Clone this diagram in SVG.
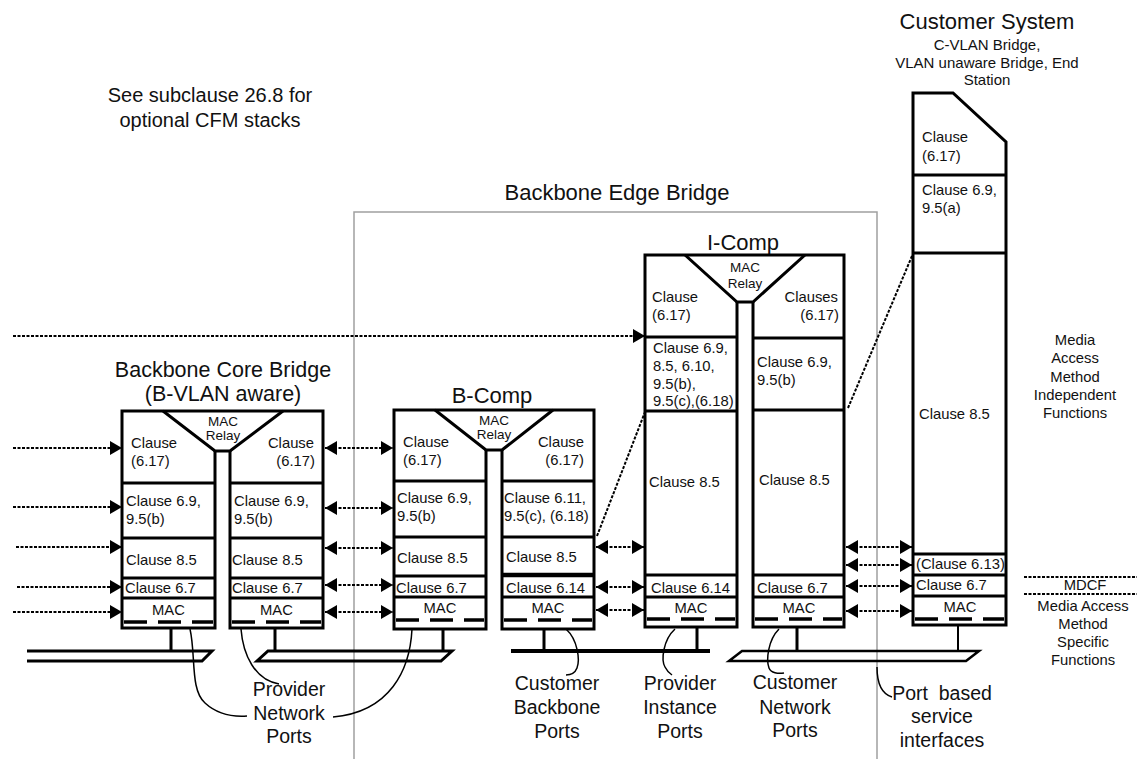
<svg xmlns="http://www.w3.org/2000/svg" width="1137" height="759" viewBox="0 0 1137 759">
<style>
.box{fill:none;stroke:#000;stroke-width:3;stroke-linejoin:miter}
.dash{fill:none;stroke:#000;stroke-width:3.5;stroke-dasharray:23 11}
.t{font-family:"Liberation Sans",Arial,sans-serif;font-size:14.8px;fill:#111}
.rl{font-size:13.5px}
.ti{font-size:22px}
.lb{font-size:19.5px}
.m{text-anchor:middle}
.e{text-anchor:end}
.dot{fill:none;stroke:#000;stroke-width:2;stroke-dasharray:3 1.5}
.lead{fill:none;stroke:#000;stroke-width:1.5}
.bus{fill:none;stroke:#000;stroke-width:3;stroke-linejoin:miter}
.grey{fill:none;stroke:#a0a0a0;stroke-width:1.5}
</style>
<defs>
<marker id="ah" viewBox="0 0 12 14" refX="12" refY="7" markerWidth="12" markerHeight="14" markerUnits="userSpaceOnUse" orient="auto-start-reverse">
<path d="M0,0 L12,7 L0,14 Z" fill="#000"/>
</marker>
</defs>
<rect width="1137" height="759" fill="#fff"/>

<g id="notes">
<text class="t m" x="210" y="102" style="font-size:20px">See subclause 26.8 for</text>
<text class="t m" x="210" y="127" style="font-size:20px">optional CFM stacks</text>
</g>

<g id="backbone-edge-bridge">
<path class="grey" d="M354,759 V212 H877 V759"/>
<text class="t ti m" x="617" y="200">Backbone Edge Bridge</text>
</g>

<g id="backbone-core-bridge">
<text class="t m" x="223" y="377" style="font-size:21.5px">Backbone Core Bridge</text>
<text class="t m" x="223" y="401" style="font-size:21.5px">(B-VLAN aware)</text>
<path class="box" d="M215,451 V628 H122 V411 H323 V628 H230 V451"/>
<path class="box" d="M163,411 L215,451 H230 L283,411"/>
<path class="box" d="M122,483 H215 M122,538 H215 M122,578 H215 M122,598 H215 M230,483 H323 M230,538 H323 M230,578 H323 M230,598 H323"/>
<path class="dash" d="M124,622 H213 M232,622 H321"/>
<text class="t rl m" x="223" y="426">MAC</text>
<text class="t rl m" x="223" y="440">Relay</text>
<text class="t" x="131" y="448">Clause</text>
<text class="t" x="131" y="466">(6.17)</text>
<text class="t e" x="314" y="448">Clause</text>
<text class="t e" x="315" y="466">(6.17)</text>
<text class="t" x="126" y="506">Clause 6.9,</text>
<text class="t" x="126" y="524">9.5(b)</text>
<text class="t" x="234" y="506">Clause 6.9,</text>
<text class="t" x="234" y="524">9.5(b)</text>
<text class="t" x="126" y="565">Clause 8.5</text>
<text class="t" x="232" y="565">Clause 8.5</text>
<text class="t" x="125" y="593">Clause 6.7</text>
<text class="t" x="232" y="593">Clause 6.7</text>
<text class="t m" x="168.5" y="615">MAC</text>
<text class="t m" x="276.5" y="615">MAC</text>
</g>

<g id="b-comp">
<text class="t ti m" x="492" y="403">B-Comp</text>
<path class="box" d="M486,450 V629 H394 V410 H594 V629 H502 V450"/>
<path class="box" d="M435,410 L486,450 H502 L553,410"/>
<path class="box" d="M394,481 H486 M394,537 H486 M394,576 H486 M394,597 H486 M502,481 H594 M502,537 H594 M502,597 H594"/>
<path class="box" style="stroke-width:4.5" d="M502,575 H594"/>
<path class="dash" d="M396,620 H484 M504,620 H592"/>
<text class="t rl m" x="494" y="425">MAC</text>
<text class="t rl m" x="494" y="439">Relay</text>
<text class="t" x="403" y="447">Clause</text>
<text class="t" x="403" y="465">(6.17)</text>
<text class="t e" x="584" y="447">Clause</text>
<text class="t e" x="584" y="465">(6.17)</text>
<text class="t" x="397" y="503">Clause 6.9,</text>
<text class="t" x="397" y="521">9.5(b)</text>
<text class="t" x="504" y="503">Clause 6.11,</text>
<text class="t" x="504" y="521">9.5(c), (6.18)</text>
<text class="t" x="397" y="563">Clause 8.5</text>
<text class="t" x="506" y="562">Clause 8.5</text>
<text class="t" x="396" y="593">Clause 6.7</text>
<text class="t" x="506" y="593">Clause 6.14</text>
<text class="t m" x="440" y="613">MAC</text>
<text class="t m" x="548" y="613">MAC</text>
</g>

<g id="i-comp">
<text class="t ti m" x="743" y="250">I-Comp</text>
<path class="box" d="M737,302 V627 H645 V255 H844 V627 H753 V302"/>
<path class="box" d="M685,255 L737,302 H753 L805,255"/>
<path class="box" d="M645,337 H737 M645,411 H737 M645,575 H737 M645,597 H737 M753,338 H844 M753,410 H844 M753,575 H844 M753,597 H844"/>
<path class="dash" d="M647,619 H735 M755,619 H842"/>
<text class="t rl m" x="745" y="272">MAC</text>
<text class="t rl m" x="745" y="288">Relay</text>
<text class="t" x="652" y="302">Clause</text>
<text class="t" x="652" y="320">(6.17)</text>
<text class="t e" x="838" y="302">Clauses</text>
<text class="t e" x="839" y="320">(6.17)</text>
<text class="t" x="653" y="353">Clause 6.9,</text>
<text class="t" x="653" y="371">8.5, 6.10,</text>
<text class="t" x="653" y="389">9.5(b),</text>
<text class="t" x="653" y="406">9.5(c),(6.18)</text>
<text class="t" x="757" y="367">Clause 6.9,</text>
<text class="t" x="757" y="385">9.5(b)</text>
<text class="t" x="649" y="487">Clause 8.5</text>
<text class="t" x="759" y="485">Clause 8.5</text>
<text class="t" x="651" y="593">Clause 6.14</text>
<text class="t" x="757" y="593">Clause 6.7</text>
<text class="t m" x="691" y="613">MAC</text>
<text class="t m" x="799" y="613">MAC</text>
</g>

<g id="customer-system">
<text class="t ti m" x="987" y="29">Customer System</text>
<text class="t m" x="987" y="50" style="font-size:15px">C-VLAN Bridge,</text>
<text class="t m" x="987" y="67.5" style="font-size:15px">VLAN unaware Bridge, End</text>
<text class="t m" x="987" y="85" style="font-size:15px">Station</text>
<path class="box" d="M913,625 V93 H953 L1006,142 V625 Z"/>
<path class="box" d="M913,175 H1006 M913,253 H1006 M913,554 H1006 M913,575 H1006 M913,596 H1006"/>
<path class="dash" d="M915,619 H1004"/>
<text class="t" x="922" y="142">Clause</text>
<text class="t" x="922" y="161">(6.17)</text>
<text class="t" x="922" y="195">Clause 6.9,</text>
<text class="t" x="922" y="213">9.5(a)</text>
<text class="t" x="919" y="419">Clause 8.5</text>
<text class="t" x="916" y="569">(Clause 6.13)</text>
<text class="t" x="916" y="590">Clause 6.7</text>
<text class="t m" x="960" y="612">MAC</text>
</g>

<g id="layer-legend">
<text class="t m" x="1075" y="345">Media</text>
<text class="t m" x="1075" y="363">Access</text>
<text class="t m" x="1075" y="382">Method</text>
<text class="t m" x="1075" y="400">Independent</text>
<text class="t m" x="1075" y="418">Functions</text>
<path class="dot" d="M1024,577 H1137 M1024,594 H1137"/>
<text class="t m" x="1085" y="590">MDCF</text>
<text class="t m" x="1083" y="611">Media Access</text>
<text class="t m" x="1083" y="629">Method</text>
<text class="t m" x="1083" y="647">Specific</text>
<text class="t m" x="1083" y="665">Functions</text>
</g>

<g id="lans">
<path class="bus" d="M171,628 V651 M275,628 V651 M443,629 V651 M544,629 V651 M697,627 V651 M797,627 V651"/>
<path class="bus" style="stroke-width:2" d="M958,625 V651"/>
<path class="bus" d="M27,651 H212 L202,661 H27"/>
<path class="bus" d="M268,651 H452 L441,661 H257 Z"/>
<path class="bus" style="stroke-width:4" d="M511,651 H710"/>
<path class="bus" style="stroke-width:2.5" d="M742,651 H979 L966,661 H729 Z"/>
</g>

<g id="connectors">
<path class="dot" marker-end="url(#ah)" d="M13,336 H645"/>
<path class="dot" marker-end="url(#ah)" d="M13,448 H122"/>
<path class="dot" marker-end="url(#ah)" d="M13,507 H122"/>
<path class="dot" marker-end="url(#ah)" d="M16,547 H122"/>
<path class="dot" marker-end="url(#ah)" d="M17,587 H122"/>
<path class="dot" marker-end="url(#ah)" d="M13,612 H122"/>
<path class="dot" marker-start="url(#ah)" marker-end="url(#ah)" d="M325,448 H393"/>
<path class="dot" marker-start="url(#ah)" marker-end="url(#ah)" d="M325,508 H393"/>
<path class="dot" marker-start="url(#ah)" marker-end="url(#ah)" d="M325,548 H393"/>
<path class="dot" marker-start="url(#ah)" marker-end="url(#ah)" d="M325,585 H393"/>
<path class="dot" marker-start="url(#ah)" marker-end="url(#ah)" d="M325,612 H393"/>
<path class="dot" marker-start="url(#ah)" marker-end="url(#ah)" d="M596,547 H644"/>
<path class="dot" marker-start="url(#ah)" marker-end="url(#ah)" d="M596,587 H644"/>
<path class="dot" marker-start="url(#ah)" marker-end="url(#ah)" d="M596,610 H644"/>
<path class="dot" marker-start="url(#ah)" marker-end="url(#ah)" d="M846,547 H912"/>
<path class="dot" marker-start="url(#ah)" marker-end="url(#ah)" d="M846,565 H912"/>
<path class="dot" marker-start="url(#ah)" marker-end="url(#ah)" d="M846,586 H912"/>
<path class="dot" marker-start="url(#ah)" marker-end="url(#ah)" d="M846,611 H912"/>
<path class="dot" d="M597,536 L645,412"/>
<path class="dot" d="M848,408 L912,256"/>
<path class="lead" d="M190,629 C196,655 190,690 205,703 C217,714 233,717 247,716"/>
<path class="lead" d="M241,629 C243,655 255,680 279,684"/>
<path class="lead" d="M412,629 C410,670 390,712 333,717"/>
<path class="lead" d="M566,629 C578,640 580,660 577,668 C575,673 570,675 566,675"/>
<path class="lead" d="M675,629 C663,640 661,660 665,667 C667,671 669,673 672,675"/>
<path class="lead" d="M779,629 C768,640 766,660 769,668 C771,673 778,674 784,673"/>
<path class="lead" d="M877,667 C877,685 882,694 892,697"/>
</g>

<g id="port-labels">
<text class="t lb m" x="289" y="696">Provider</text>
<text class="t lb m" x="289" y="720">Network</text>
<text class="t lb m" x="289" y="743">Ports</text>
<text class="t lb m" x="557" y="690">Customer</text>
<text class="t lb m" x="557" y="714">Backbone</text>
<text class="t lb m" x="557" y="738">Ports</text>
<text class="t lb m" x="680" y="690">Provider</text>
<text class="t lb m" x="680" y="714">Instance</text>
<text class="t lb m" x="680" y="738">Ports</text>
<text class="t lb m" x="795" y="689">Customer</text>
<text class="t lb m" x="795" y="714">Network</text>
<text class="t lb m" x="795" y="737">Ports</text>
<text class="t lb m" x="942" y="700" style="white-space:pre">Port  based</text>
<text class="t lb m" x="942" y="723">service</text>
<text class="t lb m" x="942" y="747">interfaces</text>
</g>
</svg>
